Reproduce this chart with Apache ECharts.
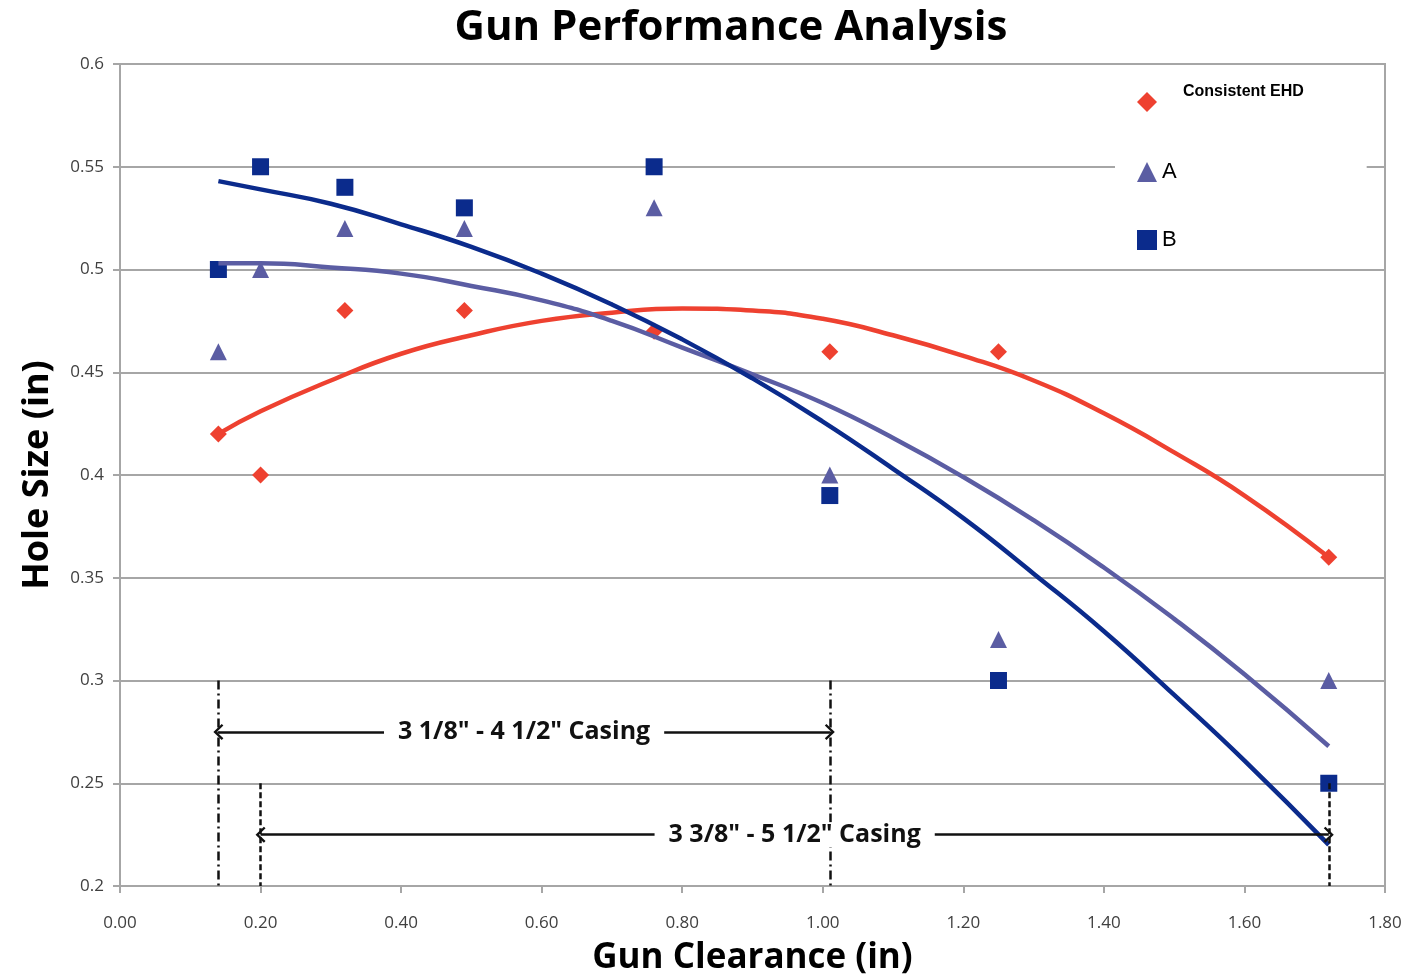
<!DOCTYPE html>
<html>
<head>
<meta charset="utf-8">
<script src="https://cdn.jsdelivr.net/npm/echarts@6/dist/echarts.min.js"></script>
<style>
html,body{margin:0;padding:0;background:#fff;}
#chart{width:1409px;height:974px;}
</style>
</head>
<body>
<div id="chart"></div>
<script>
// ---- data ----
const clearance = [0.14, 0.20, 0.32, 0.49, 0.76, 1.01, 1.25, 1.72];
const ehd = [0.42, 0.40, 0.48, 0.48, 0.47, 0.46, 0.46, 0.36];
const gunA = [0.46, 0.50, 0.52, 0.52, 0.53, 0.40, 0.32, 0.30];
const gunB = [0.50, 0.55, 0.54, 0.53, 0.55, 0.39, 0.30, 0.25];

// trend lines
const trendX   = [0.14, 0.20, 0.30, 0.40, 0.50, 0.60, 0.70, 0.80, 0.90, 1.00, 1.10, 1.20, 1.30, 1.40, 1.50, 1.60, 1.72];
const trendEhd = [0.420, 0.431, 0.446, 0.459, 0.468, 0.475, 0.479, 0.481, 0.480, 0.476, 0.468, 0.458, 0.446, 0.430, 0.411, 0.390, 0.360];
const trendA   = [0.503, 0.503, 0.501, 0.498, 0.492, 0.485, 0.475, 0.462, 0.449, 0.435, 0.418, 0.399, 0.378, 0.355, 0.330, 0.303, 0.268];
const trendB   = [0.543, 0.539, 0.532, 0.522, 0.511, 0.498, 0.483, 0.466, 0.447, 0.426, 0.403, 0.379, 0.352, 0.324, 0.293, 0.261, 0.220];

// casing range annotations
const rangeLabels = ['3 1/8" - 4 1/2" Casing', '3 3/8" - 5 1/2" Casing'];
const rangeFrom = [0.14, 0.20];
const rangeTo = [1.01, 1.72];
const rangeArrowY = [0.275, 0.225];
const rangeTop = [0.30, 0.25];
const rangeBottom = 0.20;

const xTicks = [0, 1.8, 0.2];
const yTicks = [0.2, 0.6, 0.05];

const seriesNames = ['Consistent EHD', 'A', 'B'];
const colors = ['#EE4130', '#5B5DA3', '#0B2B8C'];
const symbols = ['diamond', 'triangle', 'rect'];

// ---- build ----
const zip = (xs, ys) => xs.map((x, i) => [x, ys[i]]);
const chevron = 'path://M0,10 L10,0 L20,10 L18,12 L10,4 L2,12 Z';
const vStyles = [[9, 4, 2, 4], [6, 3]];

const markData = [];
rangeLabels.forEach((lab, i) => {
  [rangeFrom[i], rangeTo[i]].forEach(x => {
    markData.push([
      { coord: [x, rangeTop[i]], symbol: 'none' },
      { coord: [x, rangeBottom], symbol: 'none',
        lineStyle: { type: vStyles[i], color: '#111', width: 2.5 } }
    ]);
  });
  markData.push([
    { coord: [rangeFrom[i], rangeArrowY[i]], symbol: chevron, symbolSize: [16, 10] },
    { coord: [rangeTo[i], rangeArrowY[i]], symbol: chevron, symbolSize: [16, 10],
      name: lab,
      lineStyle: { type: 'solid', color: '#111', width: 2.5 },
      label: { show: true, position: 'middle', distance: 0, verticalAlign: 'middle', formatter: lab,
        fontFamily: 'Open Sans', fontWeight: 'bold', fontSize: 25, color: '#111',
        backgroundColor: '#fff', padding: [0, 14] } }
  ]);
});

const scatterSeries = seriesNames.map((n, i) => ({
  name: n, type: 'scatter',
  data: zip(clearance, [ehd, gunA, gunB][i]),
  symbol: symbols[i], symbolSize: 17,
  itemStyle: { color: colors[i], opacity: 1 }, z: 2
}));
const trendSeries = [trendEhd, trendA, trendB].map((ys, i) => ({
  name: seriesNames[i] + ' trend', type: 'line', smooth: true,
  data: zip(trendX, ys), showSymbol: false, symbol: 'none',
  lineStyle: { color: colors[i], width: 4.5 }, z: 3
}));

const legendBase = { orient: 'vertical', itemWidth: 20, itemHeight: 20, selectedMode: false };

const option = {
  animation: false,
  backgroundColor: '#fff',
  title: {
    text: 'Gun Performance Analysis', left: 726, textAlign: 'center', top: 2,
    textStyle: { fontFamily: 'Open Sans', fontWeight: 'bold', fontSize: 42, color: '#000' }
  },
  grid: { left: 120, right: 24, top: 64, bottom: 88, show: true, containLabel: false,
    outerBoundsMode: 'none',
    borderColor: '#a6a6a6', borderWidth: 2, backgroundColor: 'transparent' },
  legend: [
    Object.assign({}, legendBase, { left: 1137, top: 82, padding: 0,
      data: [{ name: seriesNames[0], icon: 'diamond' }],
      formatter: n => n + '\n ',
      textStyle: { fontFamily: 'Liberation Sans', fontWeight: 'bold', fontSize: 16, lineHeight: 20, color: '#000', padding: [0, 0, 0, 21] } }),
    Object.assign({}, legendBase, { left: 1115, top: 156, padding: [5, 190, 5, 22],
      backgroundColor: '#fff',
      data: [{ name: seriesNames[1], icon: 'triangle' }],
      textStyle: { fontFamily: 'Liberation Sans', fontSize: 22, color: '#000' } }),
    Object.assign({}, legendBase, { left: 1137, top: 229, padding: 0,
      data: [{ name: seriesNames[2], icon: 'rect' }],
      textStyle: { fontFamily: 'Liberation Sans', fontSize: 22, color: '#000' } })
  ],
  xAxis: {
    type: 'value', min: xTicks[0], max: xTicks[1], interval: xTicks[2],
    name: 'Gun Clearance (in)', nameLocation: 'middle', nameGap: 55,
    nameTextStyle: { fontFamily: 'Open Sans', fontWeight: 'bold', fontSize: 35, color: '#000' },
    axisLine: { lineStyle: { color: '#a6a6a6', width: 2 } },
    axisTick: { show: true, length: 7, lineStyle: { color: '#a6a6a6', width: 2 } },
    axisLabel: { formatter: v => v.toFixed(2), fontFamily: 'Open Sans', fontSize: 17, color: '#404040', margin: 29 },
    splitLine: { show: false }
  },
  yAxis: {
    type: 'value', min: yTicks[0], max: yTicks[1], interval: yTicks[2],
    name: 'Hole Size (in)', nameLocation: 'middle', nameGap: 64, nameRotate: 90,
    nameTextStyle: { fontFamily: 'Open Sans', fontWeight: 'bold', fontSize: 36, color: '#000' },
    axisLine: { show: true, lineStyle: { color: '#a6a6a6', width: 2 } },
    axisTick: { show: true, length: 7, lineStyle: { color: '#a6a6a6', width: 2 } },
    axisLabel: { formatter: v => String(+v.toFixed(2)), fontFamily: 'Open Sans', fontSize: 17, color: '#404040', margin: 16 },
    splitLine: { show: true, lineStyle: { color: '#a6a6a6', width: 2 } }
  },
  series: scatterSeries.concat(trendSeries).concat([{
    name: 'annotations', type: 'line', data: [], z: 4, silent: true,
    markLine: { silent: true, symbol: 'none', animation: false,
      lineStyle: { color: '#111', width: 2.5 }, label: { show: false },
      data: markData }
  }])
};

const chart = echarts.init(document.getElementById('chart'), null, { renderer: 'canvas' });
chart.setOption(option);
</script>
</body>
</html>
